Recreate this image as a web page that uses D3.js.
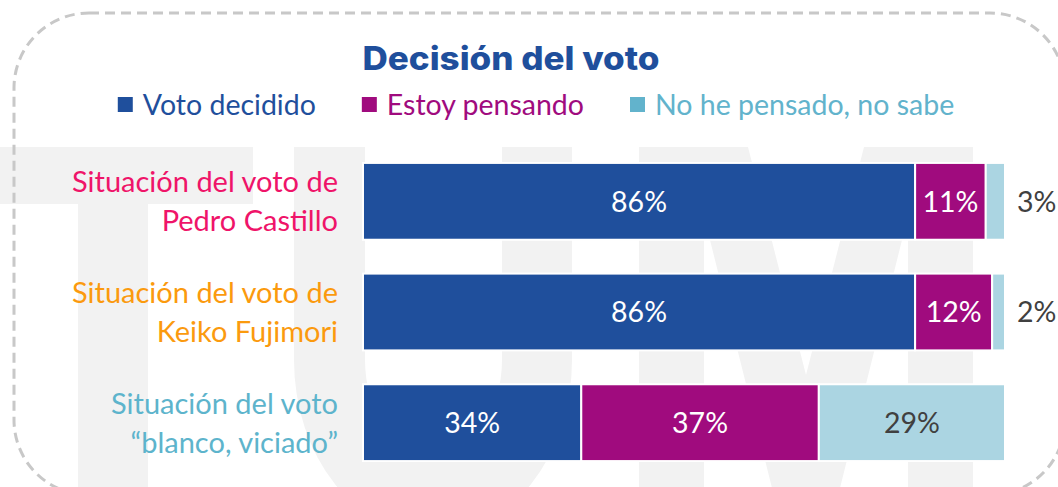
<!DOCTYPE html>
<html>
<head>
<meta charset="utf-8">
<script src="https://cdn.jsdelivr.net/npm/d3@7"></script>
<style>
  body { margin: 0; background: #fff; }
  svg { display: block; }
</style>
</head>
<body>
<div id="viz-container"></div>
<script>
// data
const categories = ["Pedro Castillo", "Keiko Fujimori", "blanco, viciado"];
const labelLines = [
  ["Situación del voto de", "Pedro Castillo"],
  ["Situación del voto de", "Keiko Fujimori"],
  ["Situación del voto", "“blanco, viciado”"]
];
const labelColors = ["#ef1469", "#fb9a0e", "#5db4cc"];
const seriesNames = ["Voto decidido", "Estoy pensando", "No he pensado, no sabe"];
const votoDecidido = [86, 86, 34];
const estoyPensando = [11, 12, 37];
const noSabe = [3, 2, 29];

const barColors = ["#1f4f9c", "#a00b7e", "#abd5e2"];
const legendColors = ["#1f4f9c", "#a00b7e", "#62b3cc"];
const valueTextColors = ["#ffffff", "#ffffff", "#404040"];

const W = 1058, H = 487;
const FONT = "Lato, 'Open Sans', sans-serif";

let viz = d3.select("#viz-container")
  .append("svg")
    .attr("width", W)
    .attr("height", H);

// watermark letters behind everything
const wm = viz.append("g").attr("fill", "#f2f2f2");
wm.append("path").attr("d", "M0,147 L253,147 L253,204 L148,204 L148,487 L78,487 L78,204 L0,204 Z");
wm.append("path").attr("d", "M294,147 L365,147 L365,360 A68.5,95 0 0 0 502,360 L502,147 L572,147 L572,360 A139,175 0 0 1 294,360 Z");
wm.append("path").attr("d", "M639,147 L748,147 L806,375 L864,147 L973,147 L973,500 L908,500 L908,216 L806,624 L704,216 L704,500 L639,500 Z");

// dashed rounded frame
viz.append("rect")
  .attr("x", 14).attr("y", 13)
  .attr("width", 1051).attr("height", 482)
  .attr("rx", 75).attr("ry", 75)
  .attr("fill", "none")
  .attr("stroke", "#c8c8c8")
  .attr("stroke-width", 3)
  .attr("stroke-dasharray", "10 6");

// title
viz.append("text")
  .text("Decisión del voto")
  .attr("x", 511).attr("y", 70)
  .attr("text-anchor", "middle")
  .attr("font-family", "Inter, 'Open Sans', sans-serif")
  .attr("font-weight", 800)
  .attr("font-size", 32)
  .attr("textLength", 297)
  .attr("lengthAdjust", "spacingAndGlyphs")
  .attr("fill", "#1f4f9c");

// legend, laid out from measured text widths
const legend = viz.append("g");
let lx = 0;
seriesNames.forEach((name, i) => {
  let item = legend.append("g").attr("transform", "translate(" + lx + ",0)");
  item.append("rect")
    .attr("x", 0).attr("y", -8)
    .attr("width", 15).attr("height", 15)
    .attr("fill", legendColors[i]);
  let t = item.append("text")
    .text(name)
    .attr("x", 25).attr("y", 0)
    .attr("dy", "0.35em")
    .attr("font-family", FONT)
    .attr("font-size", 28.5)
    .attr("fill", legendColors[i]);
  lx += 25 + t.node().getComputedTextLength() + 46;
});
lx -= 46;
legend.attr("transform", "translate(" + (536 - lx / 2) + ",105)");

// scales
let x = d3.scaleLinear().domain([0, 100]).range([363, 1005]);
let y = d3.scaleBand().domain(categories).range([146, 478])
  .paddingInner(0.306).paddingOuter(0.153);

let rows = categories.map((c, i) => ({
  cat: c,
  decidido: votoDecidido[i],
  pensando: estoyPensando[i],
  nosabe: noSabe[i]
}));
let stack = d3.stack().keys(["decidido", "pensando", "nosabe"])(rows);

let layers = viz.selectAll(".layer").data(stack).enter().append("g")
  .attr("class", "layer")
  .attr("fill", (d, i) => barColors[i]);

layers.selectAll("rect").data(d => d).enter().append("rect")
  .attr("x", d => x(d[0]))
  .attr("y", d => y(d.data.cat))
  .attr("width", d => x(d[1]) - x(d[0]))
  .attr("height", y.bandwidth())
  .attr("stroke", "#fff")
  .attr("stroke-width", 2);

// value labels
layers.each(function (layer, li) {
  d3.select(this).selectAll("text").data(layer).enter().append("text")
    .text(d => (d[1] - d[0]) + "%")
    .attr("x", d => (d[1] - d[0]) < 5 ? x(100) + 12 : (x(d[0]) + x(d[1])) / 2)
    .attr("y", d => y(d.data.cat) + y.bandwidth() / 2)
    .attr("dy", "0.36em")
    .attr("text-anchor", d => (d[1] - d[0]) < 5 ? "start" : "middle")
    .attr("font-family", FONT)
    .attr("font-size", 28.5)
    .attr("fill", d => (d[1] - d[0]) < 5 ? "#404040" : valueTextColors[li]);
});

// category labels
categories.forEach((c, i) => {
  let cy = y(c) + y.bandwidth() / 2;
  let t = viz.append("text")
    .attr("text-anchor", "end")
    .attr("font-family", FONT)
    .attr("font-size", 29)
    .attr("fill", labelColors[i]);
  labelLines[i].forEach((line, j) => {
    t.append("tspan")
      .text(line)
      .attr("x", 338)
      .attr("y", cy + (j === 0 ? -19 : 20))
      .attr("dy", "0.35em");
  });
});
</script>
</body>
</html>
